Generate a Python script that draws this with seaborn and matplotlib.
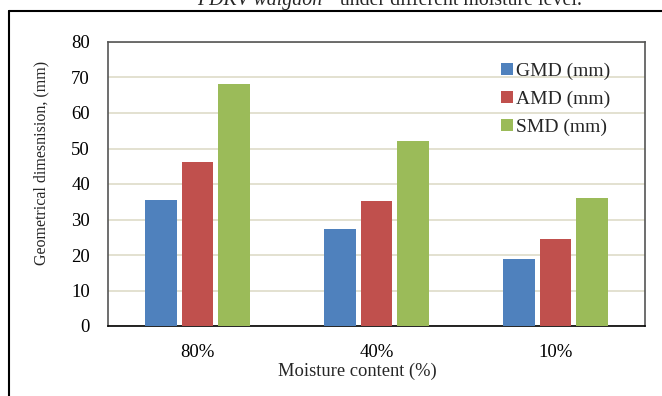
import pandas as pd
import seaborn as sns
import matplotlib.pyplot as plt
from matplotlib.lines import Line2D

# data
moisture = ['80%', '40%', '10%']
series = ['GMD (mm)', 'AMD (mm)', 'SMD (mm)']
gmd = [35.6, 27.2, 18.8]
amd = [46.1, 35.3, 24.6]
smd = [68.1, 52.1, 36.1]
yticks = [0, 10, 20, 30, 40, 50, 60, 70, 80]

colors = ['#4f81bd', '#c0504d', '#9bbb59']

df = pd.DataFrame({
    'Moisture': moisture * 3,
    'Series': [s for s in series for _ in moisture],
    'Value': gmd + amd + smd,
})

sns.set_theme(style="white")
plt.rcParams.update({
    'font.family': ['Liberation Serif', 'DejaVu Serif'],
    'font.size': 13,
})

fig = plt.figure(figsize=(6.62, 3.96), dpi=100)
ax = fig.add_axes([108 / 662, 1 - 326 / 396, 537 / 662, 284 / 396])

sns.barplot(
    data=df, x='Moisture', y='Value', hue='Series',
    order=moisture, hue_order=series, palette=colors,
    width=0.615, gap=0.14, saturation=1, edgecolor='none',
    ax=ax, zorder=3,
)

ax.set_ylim(0, 80)
ax.set_yticks(yticks)
ax.set_xlim(-0.5, 2.5)
ax.yaxis.grid(True, color='#dedbc8', linewidth=1.2, zorder=0)
ax.set_axisbelow(True)

ax.tick_params(axis='both', length=0, labelsize=13.5, colors='black')
ax.tick_params(axis='y', pad=13)
ax.tick_params(axis='x', pad=13)

ax.set_ylabel('Geometrical dimesnision, (mm)', fontsize=11.5)
ax.yaxis.set_label_coords(-0.11, 0.575)
ax.set_xlabel('Moisture content (%)', fontsize=13.3)
ax.xaxis.set_label_coords(0.465, -0.13)

for side in ['top', 'right', 'left']:
    ax.spines[side].set_color('#555555')
    ax.spines[side].set_linewidth(1.2)
ax.spines['bottom'].set_color('black')
ax.spines['bottom'].set_linewidth(1.2)

ax.legend(
    loc='upper left', bbox_to_anchor=(0.7, 0.99),
    frameon=False, fontsize=14, handlelength=0.6, handleheight=0.6,
    handletextpad=0.15, labelspacing=0.55,
)

# outer frame (top and left only visible)
fig.add_artist(Line2D([8.5 / 662, 1.01], [1 - 11 / 396] * 2,
                      transform=fig.transFigure, color='black', linewidth=1.5))
fig.add_artist(Line2D([8.5 / 662] * 2, [-0.01, 1 - 11 / 396],
                      transform=fig.transFigure, color='black', linewidth=1.5))

# caption cut off at top, as in the reference
t1 = fig.text(197 / 662, 1 - 5 / 396, 'PDKV waigaon', fontsize=14.3,
              style='italic', va='baseline', ha='left')
t2 = fig.text(0, 1 - 5 / 396, '\u201d under different moisture level.',
              fontsize=14.3, va='baseline', ha='left')
fig.canvas.draw()
bb = t1.get_window_extent()
t2.set_x((bb.x1 + 4) / fig.bbox.width)

fig.savefig('out.png', dpi=100)
